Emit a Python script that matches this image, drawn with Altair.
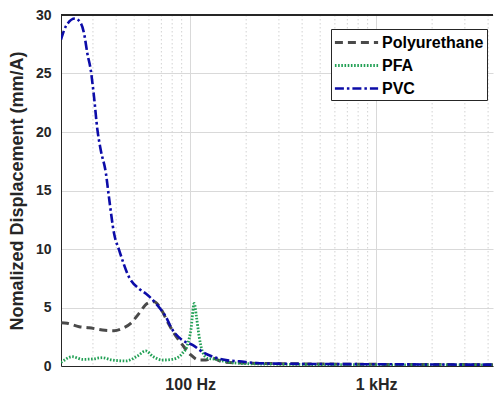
import altair as alt
import pandas as pd

# ---- data (frequency in Hz, displacement in mm/A) ----
pu_f = [20.2, 21.8, 25.3, 28.6, 33.7, 39.0, 43.2, 47.9, 53.1, 58.9, 64.0, 69.5,
        75.5, 82.0, 90.9, 100.9, 111.8, 121.5, 131.9, 150, 200, 300, 500, 700,
        1000, 1500, 2000, 3000, 4250]
pu_v = [3.7, 3.65, 3.36, 3.27, 3.08, 3.02, 3.22, 3.65, 4.5, 5.36, 5.5, 4.9,
        3.79, 2.79, 1.8, 0.94, 0.51, 0.51, 0.66, 0.35, 0.25, 0.2, 0.17, 0.15,
        0.14, 0.13, 0.12, 0.12, 0.11]

pfa_f = [20.2, 20.5, 23.2, 26.3, 29.8, 33.7, 38.1, 45.1, 52.0, 57.7, 62.7, 70.9,
         80.3, 90.9, 96.7, 100.9, 105.1, 108.1, 111.8, 116.5, 124.0, 137.5,
         155.7, 200, 300, 500, 700, 1000, 1500, 2000, 3000, 4250]
pfa_v = [0.3, 0.37, 0.8, 0.57, 0.6, 0.71, 0.51, 0.43, 0.85, 1.3, 0.85, 0.51,
         0.57, 1.08, 1.8, 3.1, 5.36, 4.2, 2.5, 1.22, 0.66, 0.57, 0.37, 0.2,
         0.15, 0.12, 0.11, 0.1, 0.1, 0.1, 0.1, 0.1]

pvc_f = [20.2, 21.4, 24.0, 25.8, 26.9, 28.0, 29.2, 30.4, 31.7, 33.0, 35.2, 36.6,
         39.0, 41.5, 46.9, 53.1, 57.7, 65.4, 74.0, 80.3, 90.9, 102.9, 116.5,
         131.9, 155.7, 183.6, 225.9, 300, 500, 700, 1000, 1500, 2000, 3000, 4250]
pvc_v = [27.9, 29.0, 29.7, 29.3, 28.4, 26.7, 25.3, 23.0, 20.2, 18.5, 16.5, 14.4,
         11.3, 9.9, 7.6, 6.6, 6.2, 5.35, 4.2, 3.1, 2.2, 1.8, 1.2, 0.8, 0.5, 0.4,
         0.25, 0.2, 0.17, 0.16, 0.15, 0.14, 0.13, 0.12, 0.12]

series_names = ["Polyurethane", "PFA", "PVC"]
series_colors = ["#4a4a4a", "#22a055", "#0c0ca8"]
series_dashes = [[8, 5], [1.6, 1.6], [9, 3, 2.5, 3]]
series_widths = [3.0, 2.6, 3.4]

x_tick_values = [100, 1000]
x_tick_labels = ["100 Hz", "1 kHz"]
minor_grid = [30, 40, 50, 60, 70, 80, 90, 200, 300, 400, 500, 600, 700, 800, 900,
              2000, 3000, 4000]
y_ticks = [0, 5, 10, 15, 20, 25, 30]
x_domain = [20.2, 4250]
y_domain = [0, 30]

W, H = 432, 351
FONT = "Liberation Sans"

rows = []
for name, fs, vs in zip(series_names, [pu_f, pfa_f, pvc_f], [pu_v, pfa_v, pvc_v]):
    for f, v in zip(fs, vs):
        rows.append({"Material": name, "f": f, "v": v})
df = pd.DataFrame(rows)
df["order"] = df["Material"].map({n: i for i, n in enumerate(series_names)})

minor_df = pd.DataFrame({"f": minor_grid})

xscale = alt.Scale(type="log", domain=x_domain, nice=False)
yscale = alt.Scale(domain=y_domain, nice=False)

label_expr = " : ".join(
    [f"datum.value == {v} ? '{l}'" for v, l in zip(x_tick_values, x_tick_labels)]
) + " : ''"

x_axis = alt.Axis(values=x_tick_values, labelExpr=label_expr, title=None,
                  grid=True, gridColor="#d9d9d9", ticks=False,
                  labelFontSize=16, labelPadding=10, labelOverlap=False,
                  domainColor="#262626")

minor_rules = alt.Chart(minor_df).mark_rule(
    color="#d2d2d2", strokeDash=[1.5, 2.5], strokeWidth=1
).encode(x=alt.X("f:Q", scale=xscale, axis=x_axis))

lines = alt.Chart(df).mark_line(interpolate="monotone", clip=True).encode(
    x=alt.X("f:Q", scale=xscale, axis=x_axis),
    y=alt.Y("v:Q", scale=yscale,
            axis=alt.Axis(values=y_ticks, title="Nomalized Displacement (mm/A)",
                          grid=True, gridColor="#d9d9d9", ticks=False,
                          labelFontSize=14, labelPadding=10, titleFontSize=18,
                          titlePadding=9, domainColor="#262626")),
    color=alt.Color("Material:N",
                    scale=alt.Scale(domain=series_names, range=series_colors),
                    legend=alt.Legend(title=None)),
    strokeDash=alt.StrokeDash("Material:N",
                              scale=alt.Scale(domain=series_names, range=series_dashes),
                              legend=alt.Legend(title=None)),
    strokeWidth=alt.StrokeWidth("Material:N",
                                scale=alt.Scale(domain=series_names, range=series_widths),
                                legend=None),
    order=alt.Order("order:Q"),
    detail="Material:N",
)

top_border = alt.Chart(df).mark_rule(color="#262626", strokeWidth=1).encode(
    x=alt.value(0), x2=alt.value(W), y=alt.value(0)
)

chart = alt.layer(minor_rules, lines, top_border).properties(
    width=W, height=H, padding={"left": 0, "top": 0, "right": 0, "bottom": 0}
).configure_view(stroke=None).configure_axis(
    labelFont=FONT, titleFont=FONT, labelFontWeight="bold", titleFontWeight="bold",
    labelColor="#262626", titleColor="#262626", domainWidth=1
).configure_legend(
    orient="none", legendX=270, legendY=14, strokeColor="#262626", fillColor="white",
    padding=3, labelFont=FONT, labelFontSize=16, labelFontWeight="bold",
    labelColor="black", symbolType="M-2.4,0H2.4", symbolSize=324,
    symbolStrokeWidth=2.6, symbolOffset=12, rowPadding=4, labelOffset=15,
    cornerRadius=0
)

chart.save("out.html", embed_options={"renderer": "svg", "actions": False})
